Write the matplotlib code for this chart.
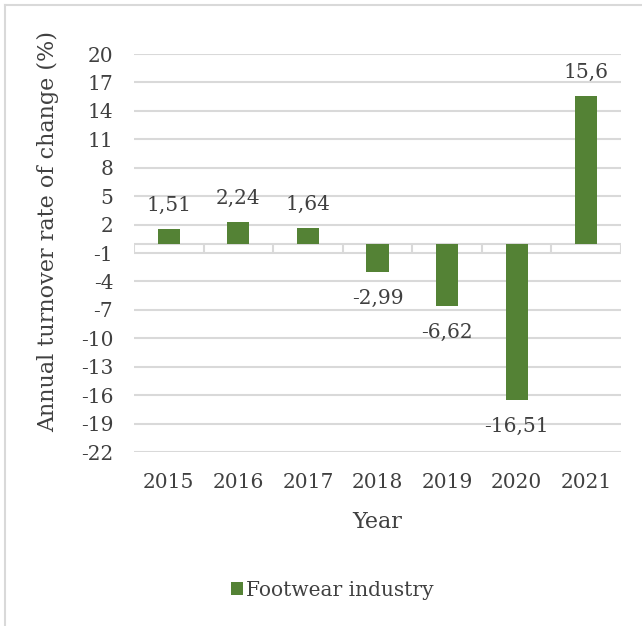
import numpy as np
import matplotlib.pyplot as plt
from matplotlib.lines import Line2D

plt.rcParams['font.family'] = ['DejaVu Serif']
plt.rcParams['axes.unicode_minus'] = False

years = ['2015', '2016', '2017', '2018', '2019', '2020', '2021']
turnover_change = [1.51, 2.24, 1.64, -2.99, -6.62, -16.51, 15.6]
yticks = list(range(-22, 21, 3))
series_name = 'Footwear industry'

green = '#548235'
grid_grey = '#d9d9d9'
text_grey = '#404040'
fs = 14.5
title_fs = 16

fig = plt.figure(figsize=(6.42, 6.26), dpi=100)
ax = fig.add_axes([134 / 642, 1 - 452 / 626, (621 - 134) / 642, (452 - 54) / 626])

x = np.arange(len(years))
bars = ax.bar(x, turnover_change, width=0.32, color=green, zorder=3, label=series_name)

# value labels with comma decimals, above positive bars and below negative ones
for xi, v in zip(x, turnover_change):
    label = str(v).replace('.', ',')
    off = 17 if v >= 0 else -19
    ax.annotate(label, (xi, v), xytext=(0, off), textcoords='offset points',
                ha='center', va='center', fontsize=fs, color=text_grey)

ax.set_xlim(-0.5, len(years) - 0.5)
ax.set_ylim(-22, 20)
ax.set_yticks(yticks)
ax.set_xticks(x)
ax.set_xticklabels(years)
ax.tick_params(axis='both', length=0, labelsize=fs, labelcolor=text_grey)
ax.tick_params(axis='x', pad=15)
ax.tick_params(axis='y', pad=15)
ax.yaxis.grid(True, color=grid_grey, linewidth=1.5, zorder=0)
ax.set_axisbelow(True)
for s in ax.spines.values():
    s.set_visible(False)

# category axis along zero with small tick marks between categories
ax.axhline(0, color=grid_grey, linewidth=1.5, zorder=2)
bounds = np.arange(len(years) + 1) - 0.5
ax.vlines(bounds, -0.85, 0, color=grid_grey, linewidth=1.5, zorder=2)

ax.set_xlabel('Year', fontsize=title_fs, color=text_grey, labelpad=14)
ax.set_ylabel('Annual turnover rate of change (%)', fontsize=title_fs, color=text_grey)
ax.yaxis.set_label_coords(-0.154, 0.555)

fig.legend(handles=[bars], labels=[series_name], loc='center', bbox_to_anchor=(332 / 642, 1 - 590 / 626),
           frameon=False, fontsize=fs, handlelength=0.6, handleheight=0.6, handletextpad=0.15,
           labelcolor=text_grey)

# chart frame (top and left edges)
fig.add_artist(Line2D([5 / 642, 1], [1 - 5 / 626, 1 - 5 / 626], transform=fig.transFigure,
                      color=grid_grey, linewidth=1.5))
fig.add_artist(Line2D([5 / 642, 5 / 642], [0, 1 - 5 / 626], transform=fig.transFigure,
                      color=grid_grey, linewidth=1.5))

fig.savefig('out.png', dpi=100, facecolor='white')
